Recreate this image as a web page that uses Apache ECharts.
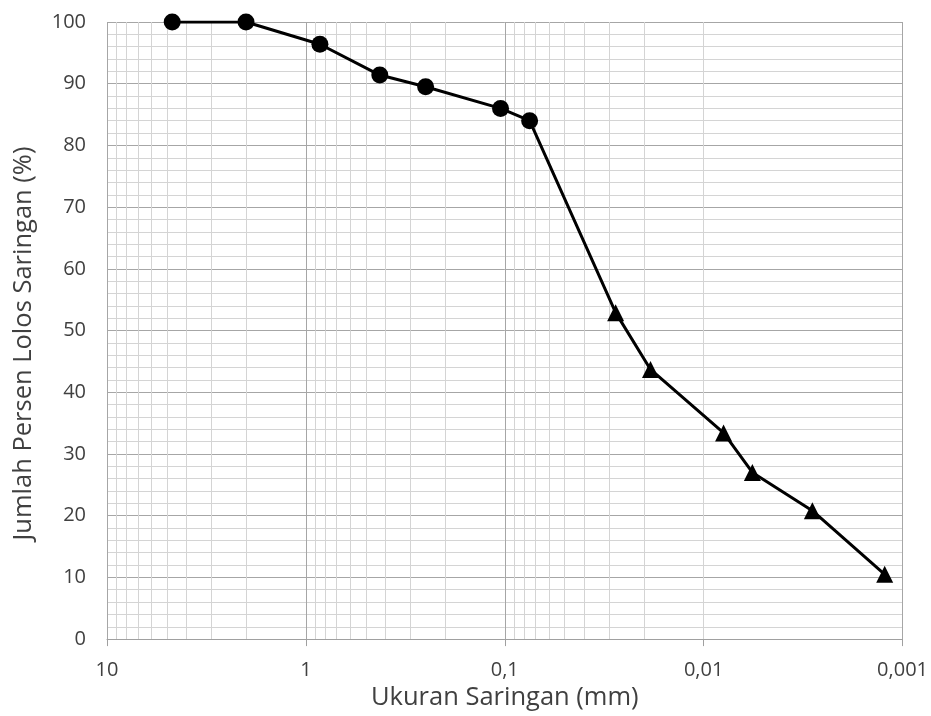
<!DOCTYPE html>
<html>
<head>
<meta charset="utf-8">
<script src="https://cdn.jsdelivr.net/npm/echarts@6/dist/echarts.min.js"></script>
<style>html,body{margin:0;padding:0;background:#fff}#c{width:931px;height:716px}</style>
</head>
<body>
<div id="c"></div>
<script>
// Sieve analysis (circles)
var sieveSize = [4.7, 2.0, 0.85, 0.425, 0.25, 0.105, 0.075];
var sievePass = [100, 100, 96.4, 91.4, 89.5, 86.0, 84.0];
// Hydrometer analysis (triangles)
var hydroSize = [0.0277, 0.0185, 0.00794, 0.00569, 0.00284, 0.00123];
var hydroPass = [52.9, 43.7, 33.4, 27.0, 20.8, 10.5];
// Axis tick labels
var xTickValues = [10, 1, 0.1, 0.01, 0.001];
var xTickLabels = ['10', '1', '0,1', '0,01', '0,001'];
var xTitle = 'Ukuran Saringan (mm)';
var yTitle = 'Jumlah Persen Lolos Saringan (%)';

var FONT = '"Open Sans", sans-serif';

var allData = [];
var symbols = [];
sieveSize.forEach(function (s, i) { allData.push([s, sievePass[i]]); symbols.push('circle'); });
hydroSize.forEach(function (s, i) { allData.push([s, hydroPass[i]]); symbols.push('triangle'); });

// minor log gridlines 2..9 within each decade
var minorGrid = [];
[0.001, 0.01, 0.1, 1].forEach(function (d) {
  for (var k = 2; k <= 9; k++) minorGrid.push({ xAxis: +(d * k).toPrecision(3) });
});

var chart = echarts.init(document.getElementById('c'), null, { renderer: 'canvas' });
chart.setOption({
  animation: false,
  backgroundColor: '#fff',
  grid: { left: 107, right: 28, top: 22, bottom: 76, containLabel: false },
  xAxis: {
    type: 'log', logBase: 10, min: 0.001, max: 10, inverse: true,
    name: xTitle, nameLocation: 'middle', nameGap: 45,
    nameTextStyle: { fontFamily: FONT, fontSize: 25.5, color: '#404040' },
    axisLine: { show: true, lineStyle: { color: '#a0a0a0', width: 1 } },
    axisTick: { show: true, length: 7, lineStyle: { color: '#a0a0a0' } },
    axisLabel: {
      margin: 21, fontFamily: FONT, fontSize: 20, color: '#404040',
      formatter: function (v) {
        for (var i = 0; i < xTickValues.length; i++) {
          if (Math.abs(Math.log10(v) - Math.log10(xTickValues[i])) < 1e-6) return xTickLabels[i];
        }
        return '';
      }
    },
    splitLine: { show: true, lineStyle: { color: '#a6a6a6', width: 1 } }
  },
  yAxis: {
    type: 'value', min: 0, max: 100, interval: 10,
    name: yTitle, nameLocation: 'middle', nameGap: 70, nameRotate: 90,
    nameTextStyle: { fontFamily: FONT, fontSize: 25.5, color: '#404040', padding: [0, 26, 0, 0] },
    axisLine: { show: false },
    axisTick: { show: false },
    axisLabel: { margin: 21, fontFamily: FONT, fontSize: 20, color: '#404040' },
    splitLine: { show: true, lineStyle: { color: '#a6a6a6', width: 1 } },
    minorTick: { show: false, splitNumber: 5 },
    minorSplitLine: { show: true, lineStyle: { color: '#d4d4d4', width: 1 } }
  },
  series: [
    {
      type: 'line', data: [], silent: true, z: 0, zlevel: 0,
      markLine: {
        silent: true, symbol: 'none', label: { show: false }, z: 0,
        lineStyle: { color: '#d4d4d4', width: 1, type: 'solid' },
        animation: false,
        data: minorGrid
      }
    },
    {
      type: 'line', data: allData, z: 10,
      lineStyle: { color: '#000', width: 3 },
      itemStyle: { color: '#000', borderWidth: 0 },
      symbol: function (v, p) { return symbols[p.dataIndex]; },
      symbolSize: 17,
      showAllSymbol: true
    }
  ]
});
</script>
</body>
</html>
